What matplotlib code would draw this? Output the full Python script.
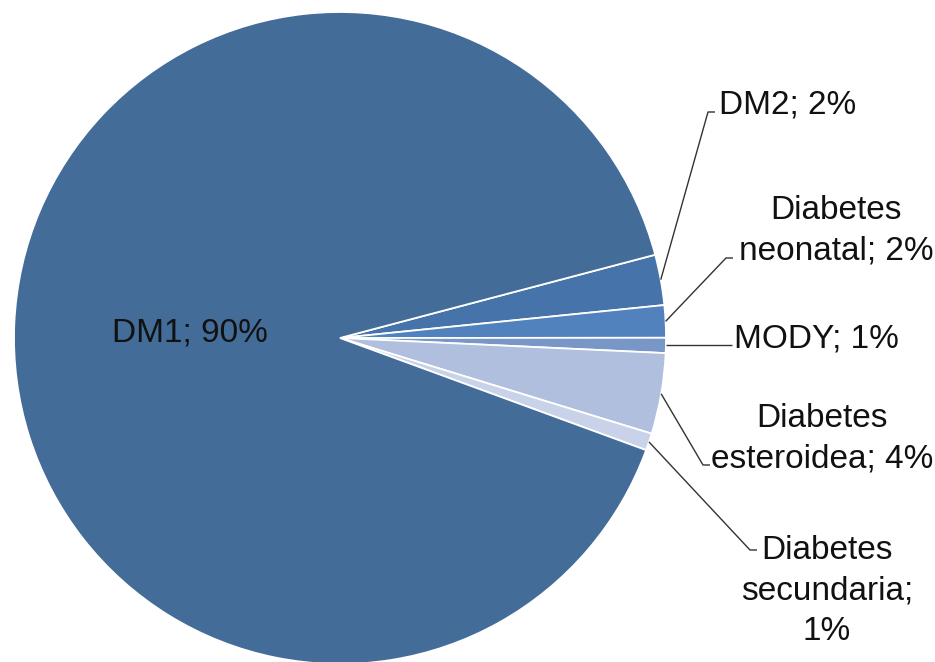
import matplotlib
matplotlib.use("Agg")
import matplotlib.pyplot as plt
import numpy as np

plt.rcParams['font.family'] = ['Liberation Sans', 'DejaVu Sans']

# Data (ordered clockwise starting at the small slices)
categories = ["DM2", "Diabetes neonatal", "MODY", "Diabetes esteroidea", "Diabetes secundaria", "DM1"]
values = [2.5, 1.6, 0.75, 4.0, 0.85, 90.3]
label_texts = ["DM2; 2%", "Diabetes\nneonatal; 2%", "MODY; 1%",
               "Diabetes\nesteroidea; 4%", "Diabetes\nsecundaria;\n1%", "DM1; 90%"]
colors = ["#4673aa", "#5182be", "#7897c7", "#afbfdd", "#c8d2e8", "#436c99"]

W, H = 935, 662
fig = plt.figure(figsize=(W / 100, H / 100), dpi=100)
ax = fig.add_axes([0, 0, 1, 1])

cx, cy, R = 340, H - 338, 326
start = 14.8
wedges, _ = ax.pie(values, colors=colors, startangle=start, counterclock=False,
                   center=(cx, cy), radius=R,
                   wedgeprops=dict(edgecolor="white", linewidth=1.3))
ax.set_xlim(0, W)
ax.set_ylim(0, H)
ax.set_aspect("equal")
ax.axis("off")

# Label layout: (text x, baseline y in image coords, ha, kink point or None)
layout = [
    (719, 113, "left", (708, 112)),
    (836, 260, "center", (726, 258)),
    (734, 347, "left", None),
    (822, 468, "center", (703, 465)),
    (827, 640, "center", (750, 550)),
]
fs = 24
for w, txt, lay in zip(wedges[:5], label_texts[:5], layout):
    tx, ty, ha, kink = lay
    ax.text(tx, H - ty, txt, fontsize=fs, ha=ha, va="baseline",
            multialignment="center", linespacing=1.4, color="#111111")
    mid = np.deg2rad((w.theta1 + w.theta2) / 2)
    ex, ey = cx + R * np.cos(mid), cy + R * np.sin(mid)
    if kink is None:
        xs = [ex, tx - 2]
        ys = [ey, ey]
    else:
        kx, ky = kink
        xs = [ex, kx, kx + 7]
        ys = [ey, H - ky, H - ky]
    ax.plot(xs, ys, color="#333333", lw=1.0, solid_capstyle="butt")

# DM1 label inside the big slice
ax.text(190, H - 342, label_texts[5], fontsize=fs, ha="center", va="baseline",
        color="#111111")

fig.savefig("out.png", dpi=100)
